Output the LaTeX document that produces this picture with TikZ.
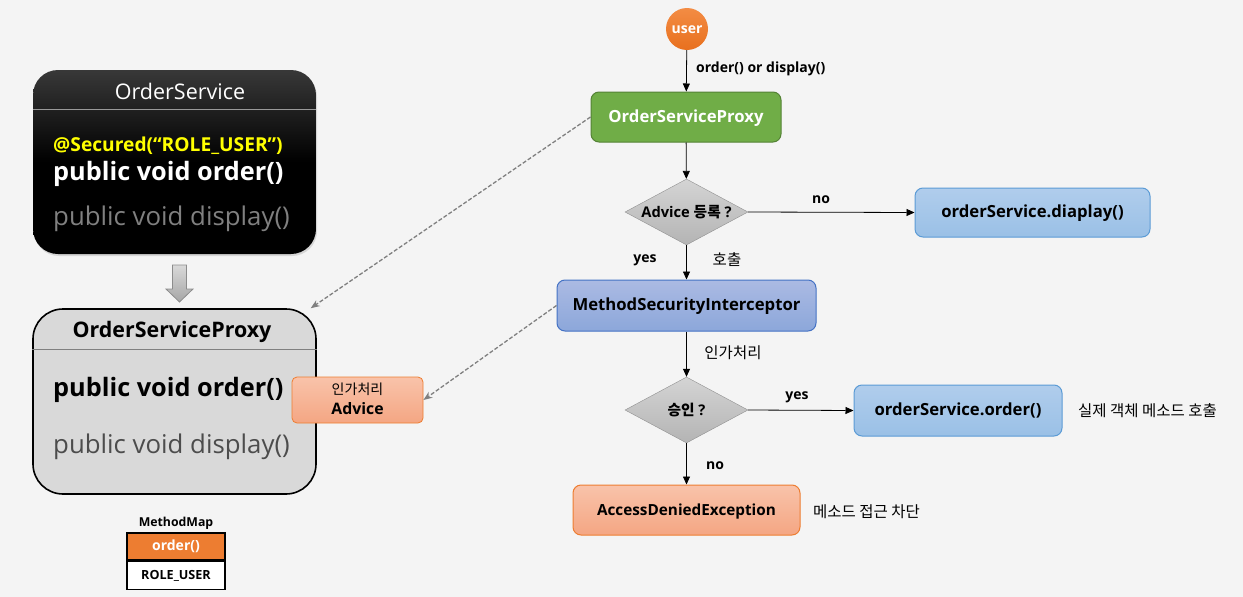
\documentclass[tikz,border=0pt]{standalone}
\usepackage{fontspec}
\setmainfont{Open Sans}
\newfontfamily\kr{Noto Sans CJK KR}
\usetikzlibrary{shapes.geometric,arrows.meta,shadows}

\definecolor{bgc}{HTML}{F4F4F4}
\definecolor{grnF}{HTML}{70AD47}
\definecolor{grnD}{HTML}{548235}
\definecolor{bluT}{HTML}{B0CDEC}
\definecolor{bluB}{HTML}{9AC0E6}
\definecolor{bluD}{HTML}{5B9BD5}
\definecolor{msiT}{HTML}{ABBAE3}
\definecolor{msiB}{HTML}{8CA7DA}
\definecolor{msiD}{HTML}{4472C4}
\definecolor{orT}{HTML}{F9C3AA}
\definecolor{orB}{HTML}{F4A683}
\definecolor{orD}{HTML}{ED7D31}
\definecolor{usrT}{HTML}{F38C44}
\definecolor{usrB}{HTML}{E8701E}
\definecolor{dmT}{HTML}{D4D4D4}
\definecolor{dmB}{HTML}{B4B4B4}
\definecolor{yel}{HTML}{FFFF00}

\tikzset{
  flow/.style={-{Triangle[length=8pt,width=7pt]}, line width=0.8pt, black},
  dashlink/.style={-{Stealth[length=9pt,width=7pt]}, dash pattern=on 4pt off 2pt,
    line width=1.3pt, draw=black!50},
  lbl/.style={font=\bfseries\fontsize{14}{16}\selectfont, inner sep=0pt},
  krlbl/.style={font=\kr\fontsize{15.5}{18}\selectfont, inner sep=0pt},
  procbox/.style={rounded corners=8pt, line width=1pt, minimum height=50pt,
    font=\bfseries\fontsize{16.7}{19}\selectfont, inner sep=0pt,
    text height=11pt, text depth=1pt},
  decision/.style={diamond, aspect=1.86, inner sep=0pt, minimum width=123pt,
    minimum height=66pt, top color=dmT, bottom color=dmB, draw=dmB!80!black,
    line width=0.4pt, font=\bfseries\fontsize{14.7}{17}\selectfont,
    text height=10pt, text depth=0pt},
  codeline/.style={anchor=west, inner sep=0pt},
}

\begin{document}
\begin{tikzpicture}[x=1pt, y=-1pt]
  \useasboundingbox[fill=bgc] (0,0) rectangle (1243,597);

  % ---------- original service class ----------
  \node[rounded corners=25pt, minimum width=283pt, minimum height=184pt,
        top color=black!78, bottom color=black, middle color=black,
        drop shadow={opacity=0.25, shadow xshift=1pt, shadow yshift=-2pt}]
        (svc) at (174.5,162) {};
  \draw[black!40, line width=0.8pt] ([yshift=-40pt]svc.north west) -- ([yshift=-40pt]svc.north east);
  \node[inner sep=0pt, text=white, font=\fontsize{21.5}{24}\selectfont] (svcT) at (180,91) {OrderService};
  \node[codeline, text=yel, font=\bfseries\fontsize{19.2}{22}\selectfont] (svcA) at (53,146) {@Secured(“ROLE\_USER”)};
  \node[codeline, text=white, font=\bfseries\fontsize{25.3}{28}\selectfont] (svcO) at (53,174) {public void order()};
  \node[codeline, text=black!50, font=\fontsize{25.8}{28}\selectfont] (svcD) at (53,219) {public void display()};

  % hollow arrow: class becomes proxy
  \path[draw=black!45, line width=0.8pt, top color=white!85!black, bottom color=black!35]
    (172.5,265) -- (186.5,265) -- (186.5,289) -- (193,289) -- (179.5,302)
    -- (166,289) -- (172.5,289) -- cycle;

  % ---------- proxy class ----------
  \node[rounded corners=30pt, minimum width=283pt, minimum height=185pt,
        fill=black!15, draw=black, line width=1.6pt] (pbox) at (174.5,401.5) {};
  \draw[black!50, line width=0.8pt] ([yshift=-41pt]pbox.north west) -- ([yshift=-41pt]pbox.north east);
  \node[inner sep=0pt, font=\bfseries\fontsize{21.4}{24}\selectfont] (pT) at (172,332) {OrderServiceProxy};
  \node[codeline, font=\bfseries\fontsize{25.3}{28}\selectfont] (pO) at (53,390) {public void order()};
  \node[codeline, text=black!70, font=\fontsize{25.8}{28}\selectfont] (pD) at (53,447) {public void display()};

  % advice attached to the proxy
  \node[rounded corners=5pt, minimum width=131pt, minimum height=46pt, inner sep=0pt,
        top color=orT, bottom color=orB, draw=orD, line width=0.8pt] (adv) at (357.5,400) {};
  \node[inner sep=0pt, font=\kr\fontsize{14}{16}\selectfont] (advK) at (357.5,389.5) {인가처리};
  \node[inner sep=0pt, font=\bfseries\fontsize{15.8}{18}\selectfont] (advA) at (357.5,409) {Advice};

  % method map table
  \node[inner sep=0pt, font=\bfseries\fontsize{12.3}{14}\selectfont] (mmT) at (176,523) {MethodMap};
  \node[minimum width=98pt, minimum height=27pt, inner sep=0pt, fill=orD, draw=black,
        line width=1.6pt, text=white, font=\bfseries\fontsize{14}{16}\selectfont] (mmK) at (176,546.5) {order()};
  \node[minimum width=98pt, minimum height=28pt, inner sep=0pt, fill=white, draw=black,
        line width=1.6pt, font=\bfseries\fontsize{12.6}{15}\selectfont, anchor=north] (mmV) at (mmK.south) {ROLE\_USER};

  % ---------- call flow ----------
  \node[circle, minimum size=42pt, inner sep=0pt, top color=usrT, bottom color=usrB,
        text=white, font=\bfseries\fontsize{14}{16}\selectfont,
        text height=8pt, text depth=0pt] (user) at (687,29) {user};

  \node[procbox, minimum width=190pt, fill=grnF, draw=grnD, text=white] (gproxy) at (686,117) {OrderServiceProxy};

  \node[decision] (d1) at (686.5,212) {Advice {\kr 등록} ?};

  \node[procbox, minimum width=235pt, minimum height=49pt, top color=bluT, bottom color=bluB,
        draw=bluD] (disp) at (1032.5,212.5) {orderService.diaplay()};

  \node[procbox, minimum width=259pt, minimum height=51pt, top color=msiT, bottom color=msiB,
        draw=msiD] (msi) at (686.5,305.5) {MethodSecurityInterceptor};

  \node[decision] (d2) at (686.5,410) {{\kr 승인} ?};

  \node[procbox, minimum width=208pt, minimum height=51pt, top color=bluT, bottom color=bluB,
        draw=bluD] (ord) at (958,410.5) {orderService.order()};

  \node[procbox, minimum width=227pt, top color=orT, bottom color=orB, draw=orD,
        font=\bfseries\fontsize{15.3}{18}\selectfont] (ade) at (686.5,510) {AccessDeniedException};

  % connectors
  \draw[flow] (user) -- (gproxy);
  \draw[flow] (gproxy) -- (d1);
  \draw[flow] (d1.east) -- (disp.west);
  \draw[flow] (d1.south) -- (msi.north);
  \draw[flow] (msi.south) -- (d2.north);
  \draw[flow] (d2.east) -- (ord.west);
  \draw[flow] (d2.south) -- (ade.north);

  \draw[dashlink] (gproxy.west) -- (pbox);
  \draw[dashlink] (msi.west) -- (adv.east);

  % connector labels and notes
  \node[lbl, anchor=west] (l0) at (696,68.5) {order() or display()};
  \node[lbl] (l1) at (821,199.5) {no};
  \node[lbl] (l2) at (645,260.5) {yes};
  \node[krlbl] (l3) at (727,260) {호출};
  \node[krlbl] (l4) at (733,353) {인가처리};
  \node[lbl] (l5) at (797,397.5) {yes};
  \node[lbl] (l6) at (715,465.5) {no};
  \node[krlbl, anchor=west] (n1) at (1078,411) {실제 객체 메소드 호출};
  \node[krlbl, anchor=west] (n2) at (813,512) {메소드 접근 차단};
\end{tikzpicture}
\end{document}
